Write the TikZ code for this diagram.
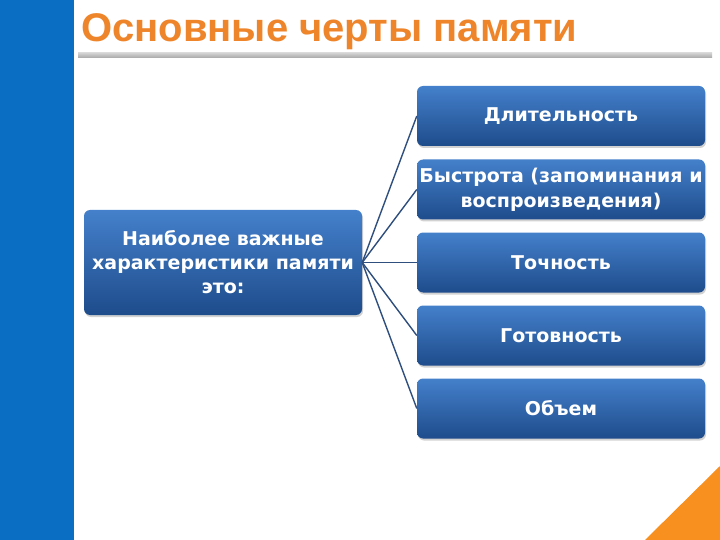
\documentclass[tikz,border=0pt]{standalone}
\usepackage{fontspec}
\setmainfont{Liberation Sans}
\newfontfamily\boxfont{DejaVu Sans}
\usetikzlibrary{shadows}
\definecolor{barblue}{HTML}{0A6FC2}
\definecolor{titleor}{HTML}{EF852A}
\definecolor{triang}{HTML}{F7901E}
\definecolor{btop}{HTML}{4480CB}
\definecolor{bbot}{HTML}{1E4C8B}
\definecolor{lineblue}{HTML}{2F4F7F}
\tikzset{
  blk/.style={rounded corners=6pt, top color=btop, bottom color=bbot, draw=none,
    drop shadow={shadow xshift=1pt, shadow yshift=-2pt, opacity=0.35},
    text=white, font=\boxfont\bfseries\fontsize{19}{24}\selectfont, align=center, inner sep=0pt},
  conn/.style={draw=lineblue, line width=1.4pt}
}
\begin{document}
\begin{tikzpicture}[x=1pt,y=-1pt]
\useasboundingbox (0,0) rectangle (720,540);
\fill[white] (0,0) rectangle (720,540);
\fill[barblue] (0,0) rectangle (74,540);
\fill[triang] (645,540) -- (720,466) -- (720,540) -- cycle;
\node[anchor=base west, text=titleor, font=\bfseries\fontsize{40}{44}\selectfont, inner sep=0pt] (title) at (81,42) {Основные черты памяти};
\shade[top color=gray!35, bottom color=gray!70] (78,53) rectangle (712,58);
\node[blk, minimum width=278pt, minimum height=105pt] (c) at (223,262.5) {Наиболее важные\\характеристики памяти\\это:};
\node[blk, minimum width=288pt, minimum height=60pt] (r1) at (561,116) {\raisebox{-2pt}{Длительность}};
\node[blk, minimum width=288pt, minimum height=60pt, font=\boxfont\bfseries\fontsize{19}{25}\selectfont] (r2) at (561,189.5) {Быстрота (запоминания и\\воспроизведения)};
\node[blk, minimum width=288pt, minimum height=60pt] (r3) at (561,262.5) {Точность};
\node[blk, minimum width=288pt, minimum height=60pt] (r4) at (561,335.5) {Готовность};
\node[blk, minimum width=288pt, minimum height=60pt] (r5) at (561,408.5) {Объем};
\foreach \r in {r1,r2,r3,r4,r5} \draw[conn] (c.east) -- (\r.west);
\end{tikzpicture}
\end{document}
